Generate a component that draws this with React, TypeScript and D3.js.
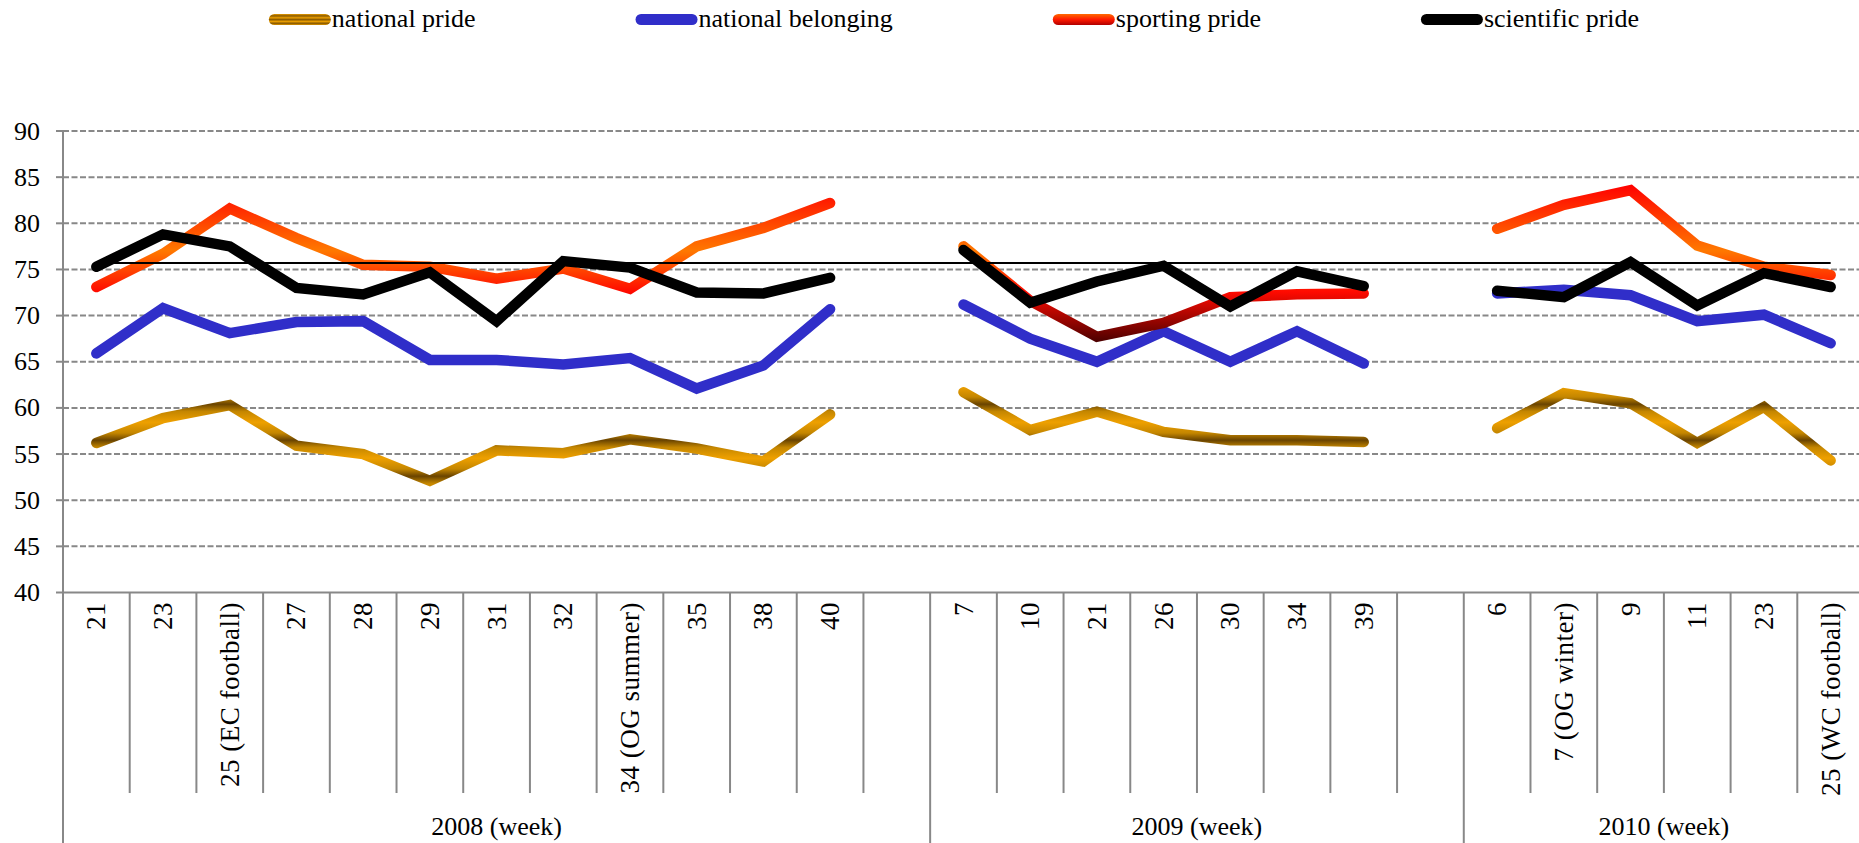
import React, { useMemo } from "react";
import * as d3 from "d3";

// week labels per year, a blank slot closes the 2008 and 2009 groups
const years = ["2008 (week)", "2009 (week)", "2010 (week)"];
const weeks2008 = ["21", "23", "25 (EC football)", "27", "28", "29", "31", "32", "34 (OG summer)", "35", "38", "40", ""];
const weeks2009 = ["7", "10", "21", "26", "30", "34", "39", ""];
const weeks2010 = ["6", "7 (OG winter)", "9", "11", "23", "25 (WC football)"];

const nationalPride = [
  56.2, 58.9, 60.3, 55.9, 55.0, 52.1, 55.4, 55.1, 56.6, 55.6, 54.2, 59.3, null,
  61.7, 57.6, 59.6, 57.4, 56.5, 56.5, 56.3, null,
  57.8, 61.6, 60.5, 56.2, 60.1, 54.3,
];
const nationalBelonging = [
  65.9, 70.8, 68.1, 69.3, 69.4, 65.2, 65.2, 64.7, 65.4, 62.1, 64.6, 70.7, null,
  71.2, 67.5, 65.0, 68.3, 65.0, 68.3, 64.8, null,
  72.4, 72.8, 72.2, 69.4, 70.1, 67.0,
];
const sportingPride = [
  73.1, 76.7, 81.6, 78.4, 75.5, 75.3, 74.0, 75.1, 72.9, 77.5, 79.5, 82.2, null,
  77.5, 71.6, 67.7, 69.2, 72.0, 72.3, 72.4, null,
  79.4, 82.0, 83.6, 77.6, 75.3, 74.4,
];
const scientificPride = [
  75.3, 78.8, 77.5, 73.0, 72.3, 74.7, 69.4, 75.9, 75.2, 72.5, 72.4, 74.1, null,
  77.1, 71.4, 73.7, 75.4, 71.0, 74.8, 73.2, null,
  72.7, 72.0, 75.8, 71.1, 74.6, 73.1,
];
const referenceLevel = 75.7;
const yTicks = [40, 45, 50, 55, 60, 65, 70, 75, 80, 85, 90];

const W = 1859;
const H = 843;
const FONT = "'Liberation Serif', 'Times New Roman', serif";
const GRAY = "#888888";

const groups = [weeks2008, weeks2009, weeks2010].map((weeks, g) => ({
  year: years[g],
  cats: weeks.map((label, i) => ({ key: `${g}-${i}`, label })),
}));
const cats = groups.flatMap((g) => g.cats);

function measure(s: string, font: string) {
  const ctx = document.createElement("canvas").getContext("2d");
  if (!ctx) return s.length * 11;
  ctx.font = font;
  return ctx.measureText(s).width;
}

export default function App() {
  const x = d3.scaleBand<string>().domain(cats.map((c) => c.key)).range([63, 1864]);
  const y = d3.scaleLinear().domain([40, 90]).range([592.5, 131]);
  const bw = x.bandwidth();
  const cx = (i: number) => (x(cats[i].key) as number) + bw / 2;

  const line = d3
    .line<number | null>()
    .defined((v) => v != null)
    .x((_, i) => cx(i))
    .y((v) => y(v as number));

  const series = [
    { name: "national pride", values: nationalPride, stroke: "url(#goldLine)", swatch: "url(#goldKey)" },
    { name: "national belonging", values: nationalBelonging, stroke: "#302ec9", swatch: "#302ec9" },
    { name: "sporting pride", values: sportingPride, stroke: "url(#fireLine)", swatch: "url(#fireKey)" },
    { name: "scientific pride", values: scientificPride, stroke: "#000", swatch: "#000" },
  ];

  // legend layout: swatch + label, items spaced evenly around a centre
  const legend = useMemo(() => {
    const sw = 62, gap = 160;
    const widths = series.map((s) => sw + 1 + measure(s.name, `26px ${FONT}`));
    const total = d3.sum(widths) + gap * (widths.length - 1);
    let pos = 954 - total / 2;
    return series.map((s, i) => {
      const item = { ...s, x: pos };
      pos += widths[i] + gap;
      return item;
    });
  }, []);

  const groupSpans = groups.map((g) => ({
    year: g.year,
    x0: x(g.cats[0].key) as number,
    x1: (x(g.cats[g.cats.length - 1].key) as number) + bw,
  }));
  const groupEdges = new Set(groupSpans.map((g) => Math.round(g.x1)));

  const goldPeak = y(60.4);
  const goldPeriod = y(56.5) - y(60.4);

  return (
    <div style={{ position: "absolute", left: 0, top: 0 }}>
      <svg width={W} height={H} style={{ display: "block", fontFamily: FONT }}>
        <defs>
          <linearGradient
            id="goldLine"
            gradientUnits="userSpaceOnUse"
            x1={0}
            x2={0}
            y1={goldPeak - goldPeriod / 2}
            y2={goldPeak + goldPeriod / 2}
            spreadMethod="repeat"
          >
            <stop offset="0" stopColor="#eea000" />
            <stop offset="0.3" stopColor="#c48600" />
            <stop offset="0.5" stopColor="#6a4400" />
            <stop offset="0.7" stopColor="#c48600" />
            <stop offset="1" stopColor="#eea000" />
          </linearGradient>
          <linearGradient id="goldKey" x1="0" x2="0" y1="0" y2="0.34" spreadMethod="repeat">
            <stop offset="0" stopColor="#e89c00" />
            <stop offset="0.5" stopColor="#8a5a00" />
            <stop offset="1" stopColor="#e89c00" />
          </linearGradient>
          <linearGradient id="fireLine" gradientUnits="userSpaceOnUse" x1={0} x2={0} y1={y(84.2)} y2={y(67.1)}>
            <stop offset="0" stopColor="#ff0000" />
            <stop offset="0.42" stopColor="#ff7800" />
            <stop offset="0.68" stopColor="#ff0a00" />
            <stop offset="1" stopColor="#4a0000" />
          </linearGradient>
          <linearGradient id="fireKey" x1="0" x2="0" y1="0" y2="1">
            <stop offset="0" stopColor="#ff6a00" />
            <stop offset="0.5" stopColor="#ff1a00" />
            <stop offset="1" stopColor="#b00000" />
          </linearGradient>
        </defs>

        {/* legend */}
        {legend.map((s) => (
          <g key={s.name} transform={`translate(${s.x},0)`}>
            <rect x={0} y={14} width={62} height={11} rx={5.5} fill={s.swatch} />
            <text x={63} y={27} fontSize={26} fill="#000">
              {s.name}
            </text>
          </g>
        ))}

        {/* horizontal gridlines */}
        {yTicks.map((t) =>
          t === 40 ? null : (
            <line
              key={t}
              x1={63}
              x2={W}
              y1={y(t)}
              y2={y(t)}
              stroke={GRAY}
              strokeWidth={2}
              strokeDasharray="6,2.5"
            />
          )
        )}

        {/* y axis */}
        <line x1={63} x2={63} y1={y(90)} y2={H} stroke={GRAY} strokeWidth={2} />
        {yTicks.map((t) => (
          <g key={t}>
            <line x1={56} x2={63} y1={y(t)} y2={y(t)} stroke={GRAY} strokeWidth={2} />
            <text x={40} y={y(t)} textAnchor="end" dominantBaseline="central" fontSize={26}>
              {t}
            </text>
          </g>
        ))}

        {/* x axis */}
        <line x1={63} x2={W} y1={y(40)} y2={y(40)} stroke={GRAY} strokeWidth={2} />
        {cats.map((c) => {
          const edge = (x(c.key) as number) + bw;
          const long = groupEdges.has(Math.round(edge));
          return (
            <line
              key={`t${c.key}`}
              x1={edge}
              x2={edge}
              y1={y(40)}
              y2={long ? H : 793}
              stroke={GRAY}
              strokeWidth={2}
            />
          );
        })}
        {cats.map((c, i) =>
          c.label ? (
            <text
              key={`l${c.key}`}
              transform={`translate(${cx(i)},602) rotate(-90)`}
              textAnchor="end"
              dominantBaseline="central"
              fontSize={27}
              letterSpacing={0.5}
            >
              {c.label}
            </text>
          ) : null
        )}
        {groupSpans.map((g) => (
          <text key={g.year} x={(g.x0 + g.x1) / 2} y={835} textAnchor="middle" fontSize={26}>
            {g.year}
          </text>
        ))}

        {/* series */}
        {series.map((s) => (
          <path
            key={s.name}
            d={line(s.values) || ""}
            fill="none"
            stroke={s.stroke}
            strokeWidth={10.5}
            strokeLinecap="round"
            strokeLinejoin="miter"
          />
        ))}

        {/* reference level */}
        <line
          x1={cx(0)}
          x2={cx(cats.length - 1)}
          y1={y(referenceLevel)}
          y2={y(referenceLevel)}
          stroke="#000"
          strokeWidth={2}
        />
      </svg>
    </div>
  );
}
